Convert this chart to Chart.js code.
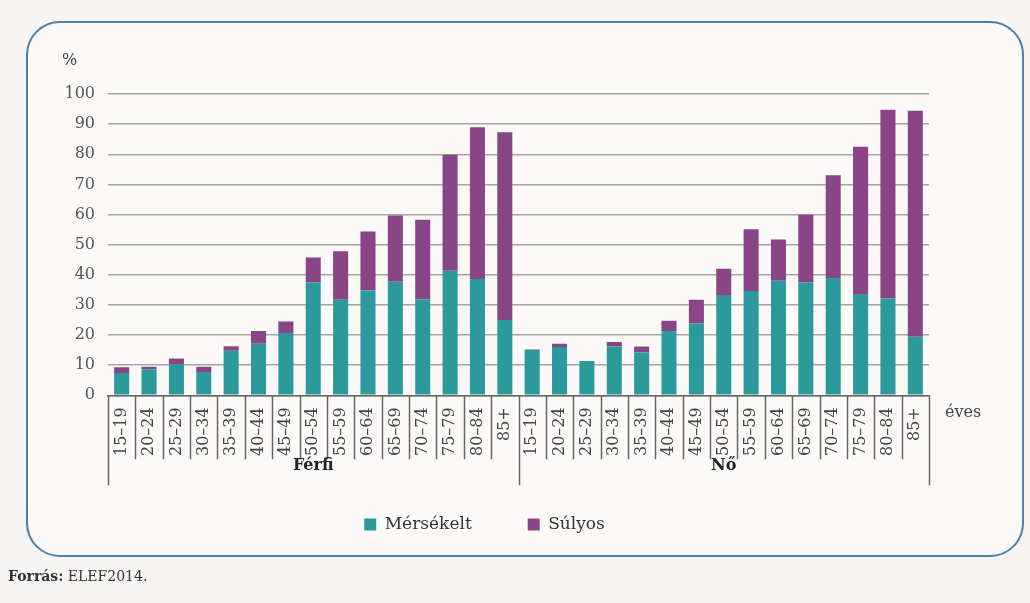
<!DOCTYPE html>
<html lang="hu">
<head>
<meta charset="utf-8">
<script src="https://cdn.jsdelivr.net/npm/chart.js@4.4.1/dist/chart.umd.min.js"></script>
<style>
  html, body { margin: 0; padding: 0; background: #f7f5f3; }
  #wrap { position: relative; width: 1030px; height: 603px; }
  #frame {
    position: absolute; left: 26px; top: 21px; width: 994px; height: 532px;
    border: 2px solid #4f7fa5; border-radius: 34px; background: #fbfaf8;
  }
  #chart { position: absolute; left: 0; top: 0; }
  #source {
    position: absolute; left: 8px; top: 568px;
    font: 14px "DejaVu Serif", serif; color: #333;
  }
</style>
</head>
<body>
<div id="wrap">
  <div id="frame"></div>
  <canvas id="chart" width="1030" height="603"></canvas>
  <div id="source"><b>Forrás:</b> ELEF2014.</div>
</div>
<script>
const ageGroups = ['15–19', '20–24', '25–29', '30–34', '35–39', '40–44', '45–49', '50–54',
    '55–59', '60–64', '65–69', '70–74', '75–79', '80–84', '85+'];
const sexes = ['Férfi', 'Nő'];

// Mérsékelt / Súlyos, %
const ferfiModerate = [7.4, 8.6, 10.3, 7.7, 14.8, 17.1, 20.7, 37.5, 31.7, 34.8, 37.7, 31.9, 41.3, 38.6, 25.0];
const ferfiSevere   = [1.9, 0.9, 1.9, 1.8, 1.5, 4.2, 3.8, 8.2, 16.1, 19.6, 22.0, 26.4, 38.5, 50.4, 62.3];
const noModerate    = [15.0, 16.0, 11.4, 16.2, 14.2, 21.3, 23.9, 33.3, 34.6, 38.0, 37.5, 38.9, 33.6, 32.1, 19.4];
const noSevere      = [0.2, 1.1, 0.0, 1.5, 2.0, 3.4, 7.8, 8.7, 20.5, 13.7, 22.4, 34.1, 48.9, 62.7, 75.0];

const yTicks = [0, 10, 20, 30, 40, 50, 60, 70, 80, 90, 100];

const ctx = document.getElementById('chart').getContext('2d');
const serif = '"DejaVu Serif", serif';
Chart.defaults.font.family = serif;
Chart.defaults.color = '#444';

// category boxes, group names and unit labels under the x axis
const groupAxis = {
    id: 'groupAxis',
    afterDraw(chart) {
        const xs = chart.scales.x;
        const area = chart.chartArea;
        const c = chart.ctx;
        const n = ageGroups.length;
        c.save();
        c.strokeStyle = '#666';
        c.lineWidth = 1.5;
        for (let i = 0; i <= sexes.length * n; i++) {
            const x = Math.round(xs.getPixelForValue(i - 0.5)) + 0.5;
            const long = i % n === 0;
            c.beginPath();
            c.moveTo(x, xs.top);
            c.lineTo(x, xs.top + (long ? 90 : 64));
            c.stroke();
        }
        c.fillStyle = '#222';
        c.font = 'bold 16px ' + serif;
        c.textAlign = 'center';
        c.textBaseline = 'middle';
        sexes.forEach((s, g) => {
            const mid = (xs.getPixelForValue(g * n - 0.5) + xs.getPixelForValue((g + 1) * n - 0.5)) / 2;
            c.fillText(s, mid, xs.top + 71);
        });
        c.font = '16px ' + serif;
        c.fillStyle = '#444';
        c.textAlign = 'left';
        c.fillText('éves', area.right + 16, xs.top + 18);
        c.fillText('%', 62, area.top - 33);
        c.restore();
    }
};

const chartConfig = {
    type: 'bar',
    data: {
        labels: sexes.flatMap(() => ageGroups),
        datasets: [
            {
                label: 'Mérsékelt',
                data: ferfiModerate.concat(noModerate),
                backgroundColor: '#2c9a9b'
            },
            {
                label: 'Súlyos',
                data: ferfiSevere.concat(noSevere),
                backgroundColor: '#8a4586'
            }
        ]
    },
    options: {
        responsive: false,
        animation: false,
        layout: { padding: { top: 94, left: 40, right: 101, bottom: 60 } },
        datasets: { bar: { barPercentage: 0.55, categoryPercentage: 1 } },
        plugins: {
            tooltip: { enabled: false },
            legend: {
                position: 'bottom',
                labels: {
                    boxWidth: 12,
                    boxHeight: 12,
                    padding: 56,
                    color: '#333',
                    font: { size: 17 }
                }
            }
        },
        scales: {
            x: {
                stacked: true,
                grid: { display: false },
                border: { display: true, color: '#666', width: 1.5 },
                ticks: {
                    minRotation: 90,
                    maxRotation: 90,
                    autoSkip: false,
                    padding: 4,
                    color: '#444',
                    font: { size: 16 }
                }
            },
            y: {
                stacked: true,
                min: 0,
                max: 100,
                afterFit: scale => { scale.width = 68; },
                afterBuildTicks: scale => { scale.ticks = yTicks.map(v => ({ value: v })); },
                grid: { color: '#a5a5a5', lineWidth: 1.5, drawTicks: false },
                border: { display: false },
                ticks: {
                    padding: 13,
                    color: '#555',
                    font: { size: 16 }
                }
            }
        }
    },
    plugins: [groupAxis]
};

const chart = new Chart(ctx, chartConfig);
</script>
</body>
</html>
